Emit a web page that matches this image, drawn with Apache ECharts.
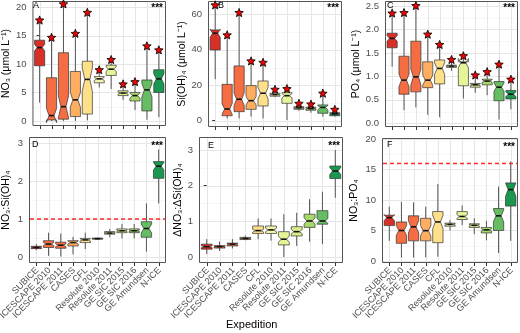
<!DOCTYPE html>
<html><head><meta charset="utf-8">
<script src="https://cdn.jsdelivr.net/npm/echarts@6/dist/echarts.min.js"></script>
<style>html,body{margin:0;padding:0;background:#fff}#c{width:520px;height:333px}</style>
</head><body><div id="c"></div><script>
const categories = ['SUBICE','ICESCAPE 2010','ICESCAPE 2011','CASES','CFL','Resolute 2010','Resolute 2011','GE SIC 2015','GE SIC 2016','GE Amundsen','N-ICE'];
const catColors = ['#d73027','#f46d43','#f46d43','#fdae61','#fee08b','#f4f5ac','#e6f598','#d9ef8b','#a6d96a','#66bd63','#1a9850'];

// each box: [low whisker, Q1, median, Q3, high whisker]; notch: [lower, upper]
const no3Box = [[3.2,9.7,12.9,14.2,17.7],[0,0.17,0.94,7.6,14.7],[0,0.3,2.5,12.0,20.6],[0,0.76,3.7,8.7,15.4],[0.1,1.2,7.3,10.5,19.1],[5.9,6.7,7.4,7.8,9.0],[5.6,8.0,9.1,9.8,10.8],[3.7,4.45,4.9,5.3,6.5],[1.9,3.5,4.45,5.0,6.9],[0.2,1.75,5.45,7.2,13.2],[0.65,5.0,7.4,9.0,12.5]];
const no3Notch = [[12.3,13.5],[-0.3,2.2],[0.6,4.4],[2.4,5.0],[5.2,9.3],[7.1,7.7],[8.7,9.5],[4.7,5.1],[4.0,4.9],[4.2,6.6],[6.5,8.3]];
const no3Star = [17.75,14.7,20.6,15.4,19.1,9.0,10.8,6.5,6.9,13.2,12.5];

const siBox = [[23.4,39.9,49.3,51.2,65.3],[1.3,2.8,6.6,20.5,48.4],[1.3,5.1,12.1,30.9,61],[2.3,6.4,11.3,19.8,33.7],[1.3,8.3,15.5,22.4,32.9],[13.2,13.8,14.7,15.5,17.7],[0.4,9.8,14.1,15.8,18.1],[5.5,6.4,7.2,7.9,9.8],[4.5,5.9,6.8,7.6,9.4],[2.3,4.2,7.5,8.9,15.5],[2.3,2.8,3.8,4.5,6.4]];
const siNotch = [[47,51.6],[3.5,9.7],[8.5,15.7],[8.8,13.8],[12.2,18.8],[14.4,15.0],[12.8,15.4],[7.0,7.4],[6.5,7.1],[6.0,8.6],[3.5,4.1]];
const siStar = [65.3,48.4,61,33.7,32.9,17.7,18.1,9.8,9.4,15.5,6.4];

const po4Box = [[1.21,1.61,1.81,1.92,2.35],[0.28,0.62,0.92,1.43,2.36],[0.34,0.67,0.99,1.75,2.51],[0.18,0.76,0.92,1.31,1.90],[0.13,0.84,1.17,1.35,1.68],[1.12,1.19,1.22,1.24,1.36],[0.53,0.80,1.29,1.31,1.44],[0.65,0.77,0.82,0.85,1.03],[0.60,0.82,0.90,0.94,1.10],[0.08,0.48,0.77,0.89,1.26],[0.30,0.52,0.62,0.70,0.94]];
const po4Notch = [[1.75,1.87],[0.78,1.05],[0.82,1.15],[0.81,1.03],[1.04,1.29],[1.21,1.23],[1.18,1.38],[0.80,0.84],[0.87,0.93],[0.68,0.86],[0.57,0.67]];
const po4Star = [2.35,2.36,2.51,1.90,1.68,1.36,1.44,1.03,1.10,1.26,0.94];

const no3SiBox = [[0.18,0.22,0.25,0.28,0.34],[0.03,0.25,0.34,0.43,0.64],[0.01,0.23,0.31,0.39,0.62],[0.07,0.29,0.38,0.43,0.53],[0.21,0.38,0.45,0.49,0.64],[0.46,0.47,0.48,0.50,0.51],[0.52,0.60,0.63,0.67,0.74],[0.49,0.64,0.69,0.74,0.87],[0.49,0.64,0.69,0.74,0.87],[0.14,0.52,0.75,0.93,1.41],[1.41,2.07,2.39,2.51,2.83]];
const no3SiNotch = [[0.24,0.26],[0.30,0.38],[0.27,0.35],[0.34,0.42],[0.42,0.48],[0.475,0.485],[0.62,0.64],[0.67,0.71],[0.67,0.71],[0.63,0.87],[2.29,2.49]];

const dNo3SiBox = [[0.08,0.22,0.29,0.36,0.50],[0.17,0.25,0.29,0.32,0.43],[0.24,0.31,0.36,0.39,0.50],[0.47,0.49,0.52,0.55,0.60],[0.50,0.66,0.74,0.87,1.08],[0.46,0.66,0.76,0.87,1.08],[0.00,0.34,0.50,0.71,1.20],[0.31,0.59,0.71,0.85,1.24],[0.43,0.83,1.01,1.20,1.62],[0.36,0.92,1.01,1.30,1.83],[1.66,2.20,2.41,2.55,3.00]];
const dNo3SiNotch = [[0.26,0.32],[0.28,0.30],[0.34,0.38],[0.51,0.53],[0.70,0.78],[0.71,0.81],[0.41,0.59],[0.65,0.77],[0.92,1.10],[0.94,1.08],[2.31,2.51]];

const no3Po4Box = [[3.3,5.8,7.1,7.5,8.9],[0.55,2.9,5.0,6.4,9.7],[0.55,3.3,5.6,7.4,9.6],[0.6,3.3,4.97,7.0,8.9],[0.7,3.0,6.4,8.1,12.6],[5.0,5.7,6.0,6.2,6.7],[5.9,6.8,7.3,8.1,9.1],[4.4,5.5,5.85,6.1,7.0],[3.4,4.6,5.1,5.5,6.6],[1.3,5.0,7.4,8.6,12.2],[3.3,9.0,11.7,12.8,16.3]];
const no3Po4Notch = [[6.6,7.6],[4.2,5.8],[4.6,6.6],[4.1,5.8],[5.3,7.5],[5.9,6.1],[7.0,7.6],[5.7,6.0],[4.9,5.3],[6.4,8.4],[10.6,12.8]];

const ticksA = [0,5,10,15,20];
const ticksB = [0,20,40,60];
const ticksC = [0,0.5,1,1.5,2,2.5];
const ticksD = [0,1,2,3];
const ticksE = [0,1,2,3];
const ticksF = [0,5,10,15,20];
const refNO3Si = 1;     // Redfield NO3:Si(OH)4
const refNO3PO4 = 16;   // Redfield NO3:PO4

const panels = [
  {box:no3Box, notch:no3Notch, star:no3Star, ticks:ticksA, min:-0.9, max:21.1, name:'NO₃ (μmol L⁻¹)', gap:19, grid:{left:32,top:1,width:134,height:125}, label:'A', lx:33, ly:1, bottom:false},
  {box:siBox, notch:siNotch, star:siStar, ticks:ticksB, min:-3.55, max:67.5, name:'Si(OH)₄ (μmol L⁻¹)', gap:20, grid:{left:208,top:1,width:134,height:126}, label:'B', lx:218, ly:1, bottom:false},
  {box:po4Box, notch:po4Notch, star:po4Star, ticks:ticksC, min:-0.079, max:2.607, name:'PO₄ (μmol L⁻¹)', gap:23, grid:{left:385,top:1,width:133,height:126}, label:'C', lx:387, ly:1, bottom:false, fmt:v=>v.toFixed(1)},
  {box:no3SiBox, notch:no3SiNotch, ticks:ticksD, min:-0.158, max:3.158, name:'NO₃:Si(OH)₄', gap:17, grid:{left:25,top:137,width:141,height:126}, label:'D', lx:32, ly:140, bottom:true, ref:refNO3Si},
  {box:dNo3SiBox, notch:dNo3SiNotch, ticks:ticksE, min:-0.168, max:3.364, name:'ΔNO₃:ΔSi(OH)₄', gap:13, grid:{left:199,top:137,width:144,height:126}, label:'E', lx:208, ly:141, bottom:true},
  {box:no3Po4Box, notch:no3Po4Notch, ticks:ticksF, min:-0.33, max:20.16, name:'NO₃:PO₄', gap:22, grid:{left:382,top:138,width:136,height:125}, label:'F', lx:387, ly:140, bottom:true, ref:refNO3PO4}
];

const idx = categories.map((c,i)=>i);
const FONT = 'Liberation Sans, Arial, sans-serif';
const starPath = 'path://M12,1 L14.9,8.6 L23,9.2 L16.8,14.4 L18.8,22.3 L12,18 L5.2,22.3 L7.2,14.4 L1,9.2 L9.1,8.6 Z';

function minorsOf(t, lo, hi){
  const out=[]; const step=t[1]-t[0];
  const cand=[t[0]-step/2]; for(let i=0;i<t.length-1;i++) cand.push((t[i]+t[i+1])/2); cand.push(t[t.length-1]+step/2);
  cand.forEach(v=>{ if(v>lo && v<hi) out.push(v); });
  return out;
}

function gridRenderer(ticks, minors, showLabels){
  return function(params, api){
    const cs = params.coordSys;
    const ch = [];
    const bottom = cs.y+cs.height;
    minors.forEach(v=>{ const y=Math.round(api.coord([0,v])[1])+0.5; ch.push({type:'line',shape:{x1:cs.x,y1:y,x2:cs.x+cs.width,y2:y},style:{stroke:'#f3f3f3',lineWidth:0.7}}); });
    ticks.forEach(v=>{ const y=Math.round(api.coord([0,v])[1])+0.5; ch.push({type:'line',shape:{x1:cs.x,y1:y,x2:cs.x+cs.width,y2:y},style:{stroke:'#e6e6e6',lineWidth:1}}); });
    idx.forEach(i=>{
      const xr=api.coord([i,0])[0];
      const x=Math.round(xr)+0.5;
      ch.push({type:'line',shape:{x1:x,y1:cs.y,x2:x,y2:bottom},style:{stroke:'#e6e6e6',lineWidth:1}});
      ch.push({type:'line',shape:{x1:x,y1:bottom,x2:x,y2:bottom+3},style:{stroke:'#333',lineWidth:1}});
      if(showLabels){
        ch.push({type:'text',x:xr+1,y:bottom+6,rotation:Math.PI/4,
          style:{text:categories[i],fill:'#4d4d4d',fontSize:9,fontFamily:FONT,align:'right',verticalAlign:'middle'}});
      }
    });
    ch.push({type:'rect',shape:{x:cs.x+0.5,y:cs.y+0.5,width:cs.width-1,height:cs.height-1},style:{fill:'none',stroke:'#555',lineWidth:1}});
    return {type:'group',children:ch};
  };
}

function refRenderer(params, api){
  const cs = params.coordSys;
  const y = api.coord([0, api.value(1)])[1];
  return {type:'line',shape:{x1:cs.x+1,y1:y,x2:cs.x+cs.width-1,y2:y},style:{stroke:'#ff2a2a',fill:null,lineWidth:1.5,lineDash:[4,3],opacity:1}};
}

function boxRenderer(params, api){
  const x = api.value(0);
  const lo=api.value(1), q1=api.value(2), med=api.value(3), q3=api.value(4), hi=api.value(5), nlo=api.value(6), nhi=api.value(7);
  const w = api.size([0.85,0])[0];
  const cx = api.coord([x,med])[0];
  const y = v=>api.coord([x,v])[1];
  const hw=w/2, ni=w*0.25;
  const pts=[[cx-hw,y(q3)],[cx-hw,y(nhi)],[cx-hw+ni,y(med)],[cx-hw,y(nlo)],[cx-hw,y(q1)],[cx+hw,y(q1)],[cx+hw,y(nlo)],[cx+hw-ni,y(med)],[cx+hw,y(nhi)],[cx+hw,y(q3)]];
  return {type:'group',children:[
    {type:'line',shape:{x1:cx,y1:y(hi),x2:cx,y2:y(q3)},style:{stroke:'#555',lineWidth:1}},
    {type:'line',shape:{x1:cx,y1:y(q1),x2:cx,y2:y(lo)},style:{stroke:'#555',lineWidth:1}},
    {type:'polygon',shape:{points:pts},style:{fill:catColors[params.dataIndex],stroke:'#333',lineWidth:0.7}},
    {type:'line',shape:{x1:cx-hw+ni,y1:y(med),x2:cx+hw-ni,y2:y(med)},style:{stroke:'#111',lineWidth:1.6}}
  ]};
}

const grids=[], xAxes=[], yAxes=[], series=[], graphics=[];
panels.forEach((p,k)=>{
  grids.push(Object.assign({show:false,containLabel:false}, p.grid));
  xAxes.push({type:'value',gridIndex:k,min:-0.6,max:10.6,axisLine:{show:false},splitLine:{show:false},
    axisTick:{show:false},axisLabel:{show:false}});
  yAxes.push({type:'value',gridIndex:k,min:p.min,max:p.max,axisLine:{show:false},splitLine:{show:false},
    axisTick:{show:true,customValues:p.ticks,length:3,lineStyle:{color:'#333',width:1}},
    axisLabel:{customValues:p.ticks,showMinLabel:true,showMaxLabel:true,formatter:p.fmt||(v=>String(v)),fontSize:9.5,color:'#4d4d4d',fontFamily:FONT,margin:6},
    name:p.name,nameLocation:'middle',nameRotate:90,nameGap:p.gap,nameTextStyle:{fontSize:10.5,color:'#000',fontFamily:FONT}});
  series.push({type:'custom',xAxisIndex:k,yAxisIndex:k,z:1,silent:true,clip:false,data:[[0,0]],renderItem:gridRenderer(p.ticks,minorsOf(p.ticks,p.min,p.max),p.bottom)});
  series.push({type:'custom',xAxisIndex:k,yAxisIndex:k,z:2,silent:true,
    data:p.box.map((b,i)=>[i].concat(b,p.notch[i])),encode:{x:0,y:[1,2,3,4,5]},renderItem:boxRenderer});
  if(p.ref!==undefined){
    series.push({type:'custom',xAxisIndex:k,yAxisIndex:k,z:3,silent:true,data:[[0,p.ref]],encode:{x:0,y:1},renderItem:refRenderer});
  }
  if(p.star){
    series.push({type:'scatter',xAxisIndex:k,yAxisIndex:k,z:4,silent:true,symbol:starPath,symbolSize:8.5,symbolKeepAspect:true,
      itemStyle:{color:'#f00000',borderColor:'#000',borderWidth:0.8,opacity:1},data:p.star.map((v,i)=>[i,v])});
  }
  graphics.push({type:'text',left:p.lx,top:p.ly,z:10,style:{text:p.label,fontSize:9,fill:'#000',fontFamily:FONT}});
  graphics.push({type:'text',right:520-(p.grid.left+p.grid.width)+3,top:p.grid.top+(p.bottom?4:2),z:10,style:{text:'***',fontSize:10,fontWeight:'bold',fill:'#000',fontFamily:FONT}});
});
graphics.push({type:'text',left:226,top:319,style:{text:'Expedition',fontSize:11,fill:'#000',fontFamily:FONT}});

const chart = echarts.init(document.getElementById('c'),null,{renderer:'canvas'});
chart.setOption({animation:false,backgroundColor:'#fff',grid:grids,xAxis:xAxes,yAxis:yAxes,series:series,graphic:graphics});
</script></body></html>
